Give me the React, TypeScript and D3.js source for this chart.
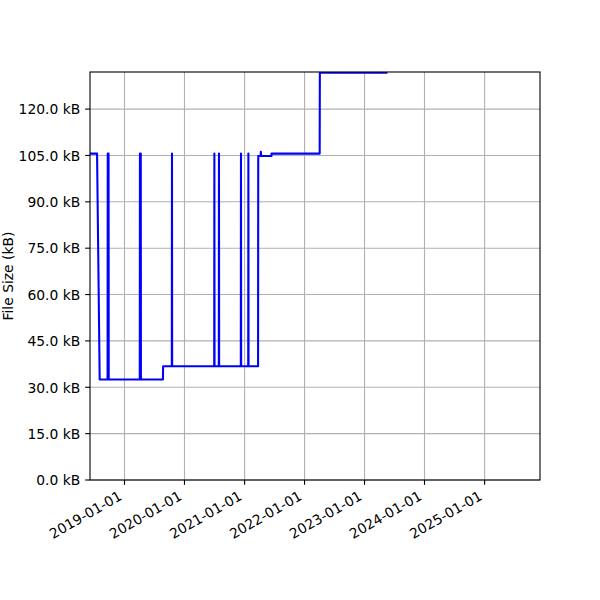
import React from "react";
import * as d3 from "d3";

const dates: string[] = [
  "2018-06-05", "2018-07-18", "2018-08-03",
  "2018-09-20", "2018-09-21", "2018-09-26", "2018-09-27",
  "2019-04-04", "2019-04-05", "2019-04-10", "2019-04-11",
  "2019-08-23", "2019-08-24",
  "2019-10-16", "2019-10-17", "2019-10-18",
  "2020-06-30", "2020-07-01", "2020-07-02",
  "2020-07-28", "2020-07-29", "2020-07-30",
  "2020-12-09", "2020-12-10", "2020-12-11",
  "2021-01-23", "2021-01-24", "2021-01-25",
  "2021-03-24", "2021-03-25", "2021-04-08", "2021-04-10", "2021-04-12",
  "2021-06-13", "2021-06-14",
  "2022-04-03", "2022-04-04", "2023-05-14",
];

const sizes: number[] = [
  105.6, 105.6, 32.5,
  32.5, 105.6, 105.6, 32.5,
  32.5, 105.6, 105.6, 32.5,
  32.5, 36.8,
  36.8, 105.6, 36.8,
  36.8, 105.6, 36.8,
  36.8, 105.6, 36.8,
  36.8, 105.6, 36.8,
  36.8, 105.6, 36.8,
  36.8, 104.8, 104.8, 106.2, 104.8,
  104.8, 105.6,
  105.6, 131.8, 131.8,
];

const yTicks: number[] = [0, 15, 30, 45, 60, 75, 90, 105, 120];
const xTickLabels: string[] = [
  "2019-01-01", "2020-01-01", "2021-01-01", "2022-01-01",
  "2023-01-01", "2024-01-01", "2025-01-01",
];
const xDomain: string[] = ["2018-06-05", "2025-12-04"];
const yDomain: number[] = [0, 132];

const W = 600, H = 600;
const L = 90, R = 540, T = 72, B = 480;
const FS = 13.89;
const FONT = "DejaVu Sans, sans-serif";

export default function App() {
  const parse = (s: string) => new Date(s + "T00:00:00Z");
  const x = d3.scaleUtc().domain(xDomain.map(parse)).range([L, R]);
  const y = d3.scaleLinear().domain(yDomain).range([B, T]);
  const data = dates.map((d, i) => ({ d: parse(d), v: sizes[i] }));
  const line = d3
    .line<{ d: Date; v: number }>()
    .x((p) => x(p.d))
    .y((p) => y(p.v));
  const fmt = d3.format(".1f");
  const tickLen = 4.86;
  const pad = 4.86;

  return (
    <svg
      width={W}
      height={H}
      style={{ position: "absolute", left: 0, top: 0, background: "#fff" }}
      fontFamily={FONT}
    >
      <rect x={0} y={0} width={W} height={H} fill="#fff" />
      <defs>
        <clipPath id="plotclip">
          <rect x={L} y={T} width={R - L} height={B - T} />
        </clipPath>
      </defs>
      {xTickLabels.map((t) => (
        <line
          key={"gx" + t}
          x1={x(parse(t))}
          x2={x(parse(t))}
          y1={T}
          y2={B}
          stroke="#b0b0b0"
          strokeWidth={1.1}
        />
      ))}
      {yTicks.map((t) => (
        <line
          key={"gy" + t}
          x1={L}
          x2={R}
          y1={y(t)}
          y2={y(t)}
          stroke="#b0b0b0"
          strokeWidth={1.1}
        />
      ))}
      <path
        d={line(data) || ""}
        fill="none"
        stroke="#0000ff"
        strokeWidth={2.08}
        strokeLinejoin="round"
        strokeLinecap="square"
        clipPath="url(#plotclip)"
      />
      <rect
        x={L}
        y={T}
        width={R - L}
        height={B - T}
        fill="none"
        stroke="#000"
        strokeWidth={1.1}
      />
      {yTicks.map((t) => (
        <g key={"yt" + t}>
          <line x1={L - tickLen} x2={L} y1={y(t)} y2={y(t)} stroke="#000" strokeWidth={1.1} />
          <text
            x={L - tickLen - pad}
            y={y(t) + 0.38 * FS}
            fontSize={FS}
            textAnchor="end"
            fill="#000"
          >
            {fmt(t) + " kB"}
          </text>
        </g>
      ))}
      {xTickLabels.map((t) => {
        const tx = x(parse(t));
        const bx = tx - 0.5 * 0.23 * FS;
        const by = B + tickLen + pad + 0.866 * 0.76 * FS;
        return (
          <g key={"xt" + t}>
            <line x1={tx} x2={tx} y1={B} y2={B + tickLen} stroke="#000" strokeWidth={1.1} />
            <text
              transform={`translate(${bx},${by}) rotate(-30)`}
              fontSize={FS}
              textAnchor="end"
              fill="#000"
            >
              {t}
            </text>
          </g>
        );
      })}
      <text
        transform={`translate(12.7,${(T + B) / 2}) rotate(-90)`}
        fontSize={FS}
        textAnchor="middle"
        fill="#000"
      >
        File Size (kB)
      </text>
    </svg>
  );
}
